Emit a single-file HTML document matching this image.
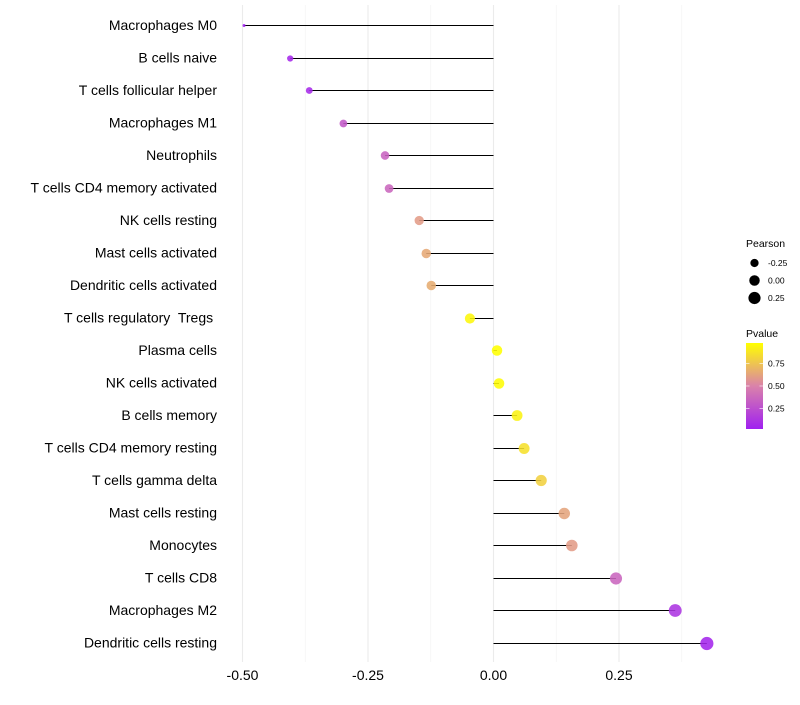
<!DOCTYPE html>
<html><head><meta charset="utf-8">
<style>
body{margin:0;background:#fff;font-family:"Liberation Sans",sans-serif;}
svg text{font-family:"Liberation Sans",sans-serif;white-space:pre;}
</style></head>
<body>
<svg id="chart" width="800" height="700"></svg>
<script>
const categories=["Macrophages M0","B cells naive","T cells follicular helper","Macrophages M1","Neutrophils","T cells CD4 memory activated","NK cells resting","Mast cells activated","Dendritic cells activated","T cells regulatory  Tregs ","Plasma cells","NK cells activated","B cells memory","T cells CD4 memory resting","T cells gamma delta","Mast cells resting","Monocytes","T cells CD8","Macrophages M2","Dendritic cells resting"];
const pearson=[-0.497,-0.405,-0.367,-0.299,-0.216,-0.208,-0.148,-0.134,-0.124,-0.047,0.007,0.011,0.047,0.061,0.095,0.141,0.156,0.244,0.362,0.425];
const pvalue=[0.02,0.06,0.07,0.3,0.35,0.37,0.6,0.65,0.66,0.95,0.98,0.97,0.93,0.86,0.8,0.63,0.6,0.36,0.12,0.05];
const xTicks=[-0.5,-0.25,0,0.25];
const xTickLabels=["-0.50","-0.25","0.00","0.25"];
const minorTicks=[-0.375,-0.125,0.125,0.375];
const sizeLegend=[-0.25,0,0.25];
const sizeLegendLabels=["-0.25","0.00","0.25"];
const colorLegendTicks=[0.25,0.5,0.75];
const colorLegendLabels=["0.25","0.50","0.75"];

const NS="http://www.w3.org/2000/svg";
const svg=document.getElementById('chart');
const x=v=>493.5+v*502;
const y=i=>25+i*32.5;
const pMin=Math.min(...pearson), pMax=Math.max(...pearson);
const r=v=>1.5+5.1*Math.sqrt(Math.max(0,(v-pMin)/(pMax-pMin)));
function lerp(a,b,t){return a.map((c,i)=>Math.round(c+(b[i]-c)*t));}
function color(p){
  const stops=[[0,[160,32,240]],[0.5,[218,130,170]],[1,[255,255,0]]];
  const t=Math.min(1,Math.max(0,(p-0.02)/0.96));
  let c=t<0.5?lerp(stops[0][1],stops[1][1],t/0.5):lerp(stops[1][1],stops[2][1],(t-0.5)/0.5);
  return `rgb(${c[0]},${c[1]},${c[2]})`;
}
function el(tag,attrs,parent){const e=document.createElementNS(NS,tag);for(const k in attrs)e.setAttribute(k,attrs[k]);(parent||svg).appendChild(e);return e;}

minorTicks.forEach(t=>{
  const l=el('line',{x1:x(t),x2:x(t),y1:5,y2:662,stroke:'#f2f2f2','stroke-width':0.6});
  
  
});
xTicks.forEach((t,i)=>{
  const l=el('line',{x1:x(t),x2:x(t),y1:5,y2:662,stroke:'#ebebeb','stroke-width':1.1});
  
  
  const tx=el('text',{x:x(t),y:680,'text-anchor':'middle','font-size':14,fill:'#000'});
  tx.textContent=xTickLabels[i];
  
  
});
categories.forEach((c,i)=>{
  const tx=el('text',{x:217,y:y(i)+5,'text-anchor':'end','font-size':14,fill:'#000','xml:space':'preserve'});
  tx.textContent=c;
  
  
  const yy=Math.round(y(i))+0.5;
  const seg=el('line',{x1:x(0),x2:x(pearson[i]),y1:yy,y2:yy,stroke:'#000','stroke-width':1});
  
  
  const pt=el('circle',{cx:x(pearson[i]),cy:yy,r:r(pearson[i]),fill:color(pvalue[i]),'fill-opacity':0.88});
  
  
});
const st=el('text',{x:746,y:247,'font-size':10.5,fill:'#000'});st.textContent='Pearson';


sizeLegend.forEach((v,i)=>{
  const cy=263+i*17.5;
  const c=el('circle',{cx:754.5,cy:cy,r:r(v),fill:'#000'});
  
  
  const t=el('text',{x:768,y:cy+3,'font-size':8.5,fill:'#000'});t.textContent=sizeLegendLabels[i];
  
  
});
const ct=el('text',{x:746,y:337,'font-size':10.5,fill:'#000'});ct.textContent='Pvalue';


const defs=el('defs',{});
const g=el('linearGradient',{id:'pg',x1:0,y1:1,x2:0,y2:0},defs);
[0,0.25,0.5,0.75,1].forEach(s=>el('stop',{offset:s,'stop-color':color(0.02+s*0.96)},g));
const bar=el('rect',{x:746,y:343,width:17,height:86,fill:'url(#pg)'});


colorLegendTicks.forEach((v,i)=>{
  const yy=429-(v-0.02)/0.96*86;
  el('line',{x1:746,x2:749.5,y1:yy,y2:yy,stroke:'#fff','stroke-width':0.6});
  el('line',{x1:759.5,x2:763,y1:yy,y2:yy,stroke:'#fff','stroke-width':0.6});
  const t=el('text',{x:768,y:yy+3,'font-size':8.5,fill:'#000'});t.textContent=colorLegendLabels[i];
  
  
});
</script>
</body></html>
